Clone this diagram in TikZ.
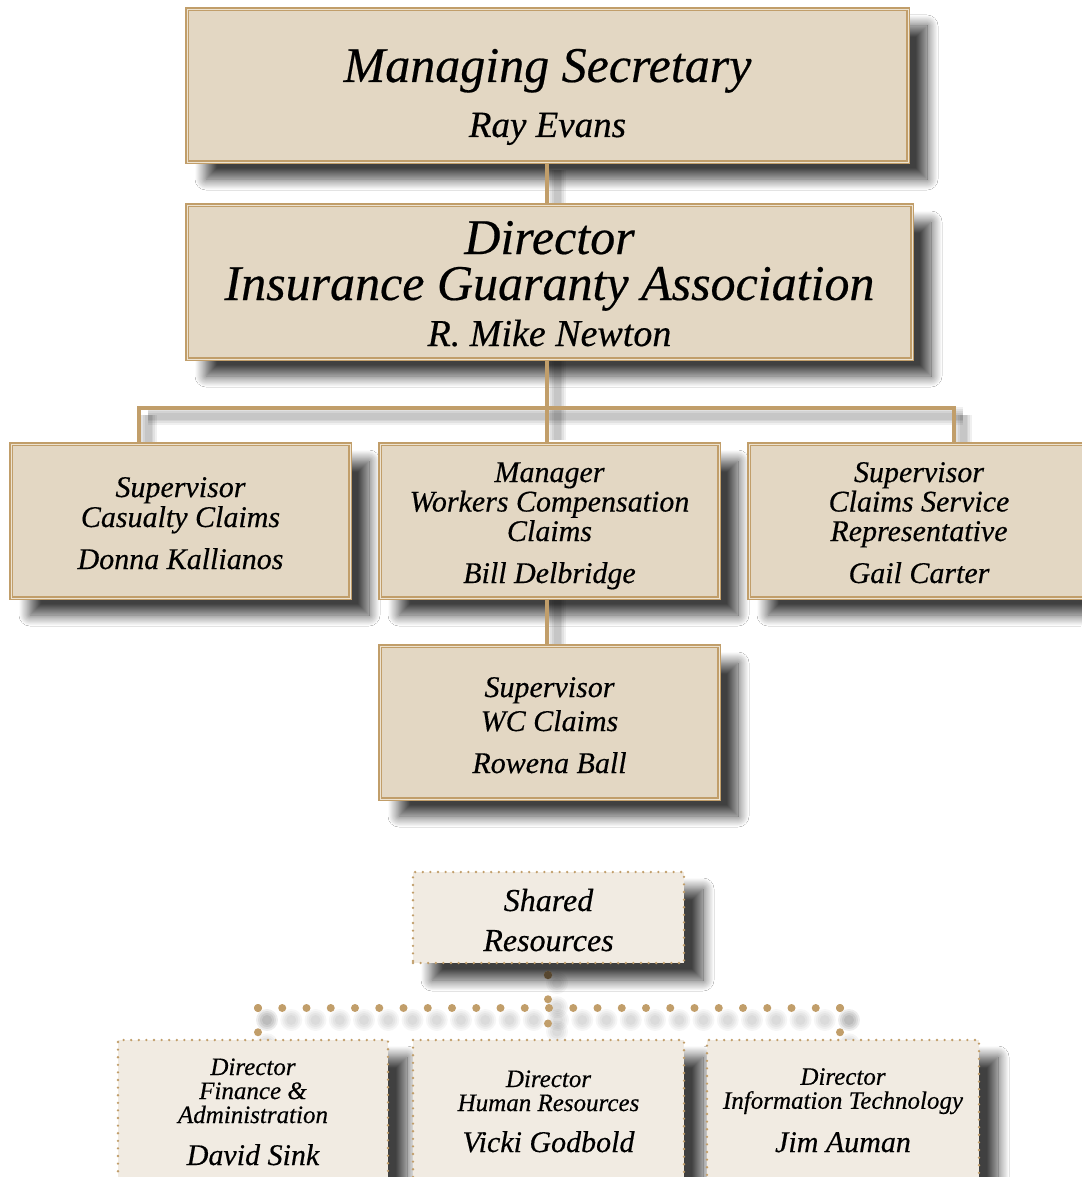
\documentclass[tikz,border=0pt]{standalone}
\usepackage{fontspec}
\setmainfont{Liberation Serif}[ItalicFeatures={FakeBold=0.4}]
\usetikzlibrary{shadows.blur}

\definecolor{tan}{HTML}{C19E6A}
\definecolor{tanlight}{HTML}{EDE3D1}
\definecolor{boxfill}{HTML}{E3D7C3}
\definecolor{sharedfill}{HTML}{F1EBE2}

\tikzset{
  boxshadow/.style={blur shadow={shadow xshift=19pt, shadow yshift=-17pt,
      shadow blur radius=11pt, shadow blur steps=18, shadow opacity=75}},
  orgbox/.style={draw=tan, line width=1.3pt, double=tanlight, double distance=0.7pt,
      fill=boxfill, boxshadow, align=center, inner sep=0pt},
  sharedbox/.style={draw=tan, line width=2.6pt, dash pattern=on 0pt off 7.6pt,
      line cap=round, fill=sharedfill, boxshadow, align=center, inner sep=0pt},
  link/.style={draw=tan, line width=4.6pt},
  linkshade/.style={draw=black, line width=#1, opacity=0.06},
  dotlink/.style={draw=tan, line width=8pt, line cap=round,
      dash pattern=on 0pt off 24.25pt},
  dotshade/.style={draw=black, line width=#1, line cap=round, opacity=0.035,
      dash pattern=on 0pt off 24.25pt},
}

\begin{document}
\begin{tikzpicture}[x=1pt, y=-1pt]
\useasboundingbox (0,0) rectangle (1081,1177);
\fill[white] (0,0) rectangle (1081,1177);

% --- named points of the solid connector tree
\coordinate (busL) at (139,408);
\coordinate (busR) at (954,408);
\coordinate (busM) at (547,408);

% --- dotted connector tree points
\coordinate (dotTop) at (548,975);
\coordinate (dotL) at (258,1008);
\coordinate (dotR) at (840,1008);
\coordinate (dotM) at (548,1008);

% --- soft shading under the solid connectors
\foreach \w in {18,14,10,7} {
  \draw[linkshade=\w pt] ([shift={(9,8)}]busL) -- ([shift={(9,8)}]busR);
  \draw[linkshade=\w pt] (557,170) -- (557,440);
  \draw[linkshade=\w pt] (557,600) -- (557,645);
  \draw[linkshade=\w pt] (148,415) -- (148,444);
  \draw[linkshade=\w pt] (963,415) -- (963,444);
}

% --- soft shading under the dotted connectors
\foreach \w in {22,18,14,10} {
  \draw[dotshade=\w pt] ([shift={(9,12)}]dotL) -- ([shift={(9,12)}]dotR);
  \draw[dotshade=\w pt] ([shift={(9,12)}]dotL) -- ++(0,25);
  \draw[dotshade=\w pt] ([shift={(9,12)}]dotR) -- ++(0,25);
  \draw[dotshade=\w pt] ([shift={(9,8)}]dotTop) -- ++(0,49);
}

% --- boxes (text height/depth place the last baseline inside each box)
\node[orgbox, minimum width=721pt, text height=128pt, text depth=25pt,
      font=\itshape\fontsize{50}{55}\selectfont] (ms) at (547.5,85.5)
  {Managing Secretary\\{\fontsize{37}{55}\selectfont Ray Evans}};

\node[orgbox, minimum width=725pt, text height=141pt, text depth=13pt,
      font=\itshape\fontsize{50}{46}\selectfont] (dir) at (549.5,282)
  {Director\\Insurance Guaranty Association\\{\fontsize{38}{46}\selectfont R. Mike Newton}};

\node[orgbox, minimum width=339pt, text height=125pt, text depth=29pt,
      font=\itshape\fontsize{30}{30}\selectfont] (cas) at (180.5,521)
  {Supervisor\\Casualty Claims\\[12pt]Donna Kallianos};

\node[orgbox, minimum width=339pt, text height=139pt, text depth=15pt,
      font=\itshape\fontsize{30}{29.5}\selectfont] (mgr) at (549.5,521)
  {Manager\\Workers Compensation\\Claims\\[12.5pt]Bill Delbridge};

\node[orgbox, minimum width=340pt, text height=139pt, text depth=15pt,
      font=\itshape\fontsize{30}{29.5}\selectfont] (csr) at (919,521)
  {Supervisor\\Claims Service\\Representative\\[12.5pt]Gail Carter};

\node[orgbox, minimum width=339pt, text height=127pt, text depth=26pt,
      font=\itshape\fontsize{30}{34}\selectfont] (wc) at (549.5,722.5)
  {Supervisor\\WC Claims\\[8pt]Rowena Ball};

\node[sharedbox, minimum width=271pt, text height=79pt, text depth=12pt,
      font=\itshape\fontsize{32}{40}\selectfont] (shr) at (548.5,917.5)
  {Shared\\Resources};

\node[sharedbox, minimum width=270pt, text height=125pt, text depth=17pt,
      font=\itshape\fontsize{25}{24}\selectfont] (fin) at (253,1111)
  {Director\\Finance \&\\Administration\\[18pt]{\fontsize{30}{24}\selectfont David Sink}};

\node[sharedbox, minimum width=271pt, text height=112pt, text depth=30pt,
      font=\itshape\fontsize{25}{24}\selectfont] (hr) at (548.5,1111)
  {Director\\Human Resources\\[17pt]{\fontsize{30}{24}\selectfont Vicki Godbold}};

\node[sharedbox, minimum width=272pt, text height=112pt, text depth=30pt,
      font=\itshape\fontsize{25}{24}\selectfont] (it) at (843,1111)
  {Director\\Information Technology\\[17pt]{\fontsize{30}{24}\selectfont Jim Auman}};

% --- solid connectors
\draw[link] (ms.south -| busM) -- (dir.north -| busM);
\draw[link] (dir.south -| busM) -- (mgr.north -| busM);
\draw[link] (busL |- cas.north) -- (busL) -- (busR) -- (busR |- csr.north);
\draw[link] (mgr.south -| busM) -- (wc.north -| busM);

% --- dotted connectors
\draw[dotlink] (dotL) -- (dotR);
\draw[dotlink] (dotL) -- ++(0,25);
\draw[dotlink] (dotR) -- ++(0,25);
\draw[dotlink] (dotTop) -- ++(0,49);
\fill[black!55!tan] (dotTop) circle (4.2pt);
\end{tikzpicture}
\end{document}
